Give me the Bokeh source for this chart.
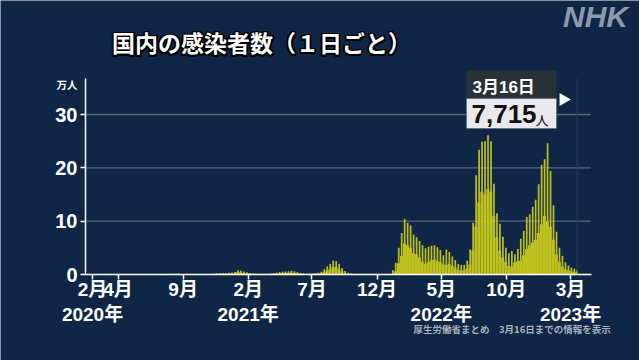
import numpy as np
import pandas as pd
from bokeh.plotting import figure
from bokeh.models import Range1d, FixedTicker, Label, BoxAnnotation, ColumnDataSource
from bokeh.embed import file_html
from bokeh.resources import INLINE

# ---------------- data (万人, weekly high day / weekly low day) ----------------
first_week = "2020-01-13"   # Monday of first week
last_week = "2023-03-13"    # Monday of last week
last_day = "2023-03-16"     # last reported day
base_date = "2020-02-01"
axis_start_day = -16.5      # 2020-01-16 (first case)
axis_end_day = 1173.3       # mid April 2023
y_top = 36.75

tick_dates = ["2020-02-01", "2020-04-01", "2020-09-01", "2021-02-01", "2021-07-01",
              "2021-12-01", "2022-05-01", "2022-10-01", "2023-03-01"]
tick_labels = ["2月\n2020年", "4月", "9月", "2月\n2021年", "7月",
               "12月", "5月\n2022年", "10月", "3月\n2023年"]
y_ticks = [0, 10, 20, 30]

high_2020 = [0.000, 0.001, 0.001,
             0.001, 0.002, 0.002, 0.003,
             0.005, 0.006, 0.005, 0.02, 0.04,
             0.07, 0.06, 0.045, 0.03,
             0.015, 0.01, 0.005, 0.005,
             0.005, 0.005, 0.006, 0.01, 0.02,
             0.04, 0.06, 0.10, 0.13,
             0.16, 0.13, 0.12, 0.09, 0.065,
             0.06, 0.06, 0.06, 0.06,
             0.065, 0.07, 0.07, 0.08,
             0.12, 0.17, 0.25, 0.25, 0.26,
             0.30, 0.31, 0.38, 0.45]
low_2020 = [0.000, 0.000, 0.000,
            0.000, 0.001, 0.001, 0.001,
            0.002, 0.003, 0.002, 0.004, 0.01,
            0.03, 0.03, 0.02, 0.01,
            0.005, 0.003, 0.002, 0.002,
            0.003, 0.003, 0.003, 0.004, 0.008,
            0.015, 0.03, 0.045, 0.06,
            0.09, 0.07, 0.06, 0.05, 0.035,
            0.03, 0.03, 0.025, 0.03,
            0.03, 0.03, 0.03, 0.035,
            0.05, 0.08, 0.10, 0.12, 0.12,
            0.15, 0.15, 0.19, 0.20]

high_2021 = [0.79, 0.70, 0.57, 0.40,
             0.26, 0.17, 0.14, 0.12,
             0.12, 0.13, 0.15, 0.20, 0.26,
             0.35, 0.45, 0.55, 0.56,
             0.62, 0.70, 0.60, 0.45, 0.30,
             0.22, 0.18, 0.18, 0.20,
             0.25, 0.33, 0.52, 1.00,
             1.5, 2.0, 2.6, 2.5, 2.0,
             1.2, 0.65, 0.35, 0.20,
             0.10, 0.06, 0.04, 0.03,
             0.025, 0.02, 0.02, 0.015, 0.015,
             0.02, 0.02, 0.03, 0.06]
low_2021 = [0.45, 0.40, 0.30, 0.20,
            0.13, 0.10, 0.07, 0.06,
            0.06, 0.07, 0.08, 0.10, 0.13,
            0.17, 0.22, 0.25, 0.30,
            0.30, 0.35, 0.30, 0.20, 0.15,
            0.10, 0.09, 0.09, 0.10,
            0.12, 0.16, 0.20, 0.45,
            0.7, 1.0, 1.4, 1.4, 1.0,
            0.6, 0.30, 0.15, 0.10,
            0.05, 0.03, 0.02, 0.015,
            0.01, 0.01, 0.008, 0.007, 0.008,
            0.008, 0.01, 0.015, 0.02]

high_2022 = [0.85, 2.2, 5.0, 7.8, 10.4,
             9.7, 9.2, 7.5, 7.0,
             6.3, 5.5, 4.9, 5.2,
             5.4, 5.5, 5.1, 4.6,
             3.6, 4.7, 4.2, 3.4, 2.7,
             2.0, 1.8, 1.8, 2.6,
             4.7, 9.7, 18.6, 23.4,
             24.9, 25.0, 26.1, 25.0, 17.0,
             11.5, 9.5, 7.1, 5.0,
             4.0, 4.4, 3.8, 4.8, 6.7,
             8.2, 10.8, 11.3, 12.7,
             14.0, 16.9, 20.6, 21.6]
low_2022 = [0.07, 0.6, 2.1, 3.5, 5.8,
            5.5, 5.0, 4.0, 3.8,
            3.2, 2.4, 2.0, 2.3,
            2.7, 2.8, 2.5, 2.3,
            1.9, 1.8, 2.0, 1.6, 1.3,
            0.9, 0.8, 0.8, 1.1,
            1.9, 4.5, 9.0, 13.5,
            15.5, 15.0, 16.0, 15.5, 11.0,
            7.0, 4.5, 3.2, 2.4,
            1.6, 1.5, 2.2, 2.5, 2.6,
            3.6, 4.8, 5.5, 6.0,
            6.5, 7.8, 9.4, 11.0]

high_2023 = [24.6, 19.4, 13.0, 8.0, 5.0,
             3.5, 2.3, 1.7, 1.3,
             1.1, 0.9]
low_2023 = [10.0, 9.0, 6.5, 3.8, 2.4,
            1.5, 1.0, 0.75, 0.6,
            0.5, 0.45]

latest_date_label = "3月16日"
latest_value_label = "7,715"

# ---------------- derived ----------------
weekly_high = high_2020 + high_2021 + high_2022 + high_2023
weekly_low = low_2020 + low_2021 + low_2022 + low_2023
weeks = pd.date_range(first_week, last_week, freq="7D")
assert len(weeks) == len(weekly_high) == len(weekly_low)
base = pd.Timestamp(base_date)
start = np.asarray((weeks - base).days, dtype=float)
end_day = float((pd.Timestamp(last_day) - base).days + 1)
tick_days = [int((pd.Timestamp(d) - base).days) for d in tick_dates]

src = ColumnDataSource(dict(
    l_left=start, l_right=np.minimum(start + 7, end_day), low=weekly_low,
    h_left=start + 2, h_right=np.minimum(start + 6, end_day), high=weekly_high,
))

# ---------------- layout (canvas = whole page) ----------------
W, H = 639, 360
PLOT_L, PLOT_R, PLOT_B = 85, 591, 274
px_day = (PLOT_R - PLOT_L) / (axis_end_day - axis_start_day)
px_unit = 160 / 30.0
x_range = Range1d(axis_start_day - PLOT_L / px_day, axis_end_day + (W - PLOT_R) / px_day)
y_range = Range1d(-(H - PLOT_B) / px_unit, PLOT_B / px_unit)

BG = "#0f2646"
BAR = "#bfc21e"
FONT = "'Liberation Sans', 'Noto Sans CJK JP', sans-serif"
JP = "'Noto Sans CJK JP', sans-serif"

p = figure(width=W, height=H, output_backend="svg", toolbar_location=None, title=None,
           x_range=x_range, y_range=y_range, min_border=0,
           background_fill_color=BG, border_fill_color=BG, outline_line_color=None)
p.grid.visible = False

# gridlines (from the y ticks)
grid_y = [t for t in y_ticks if t > 0]
p.segment(x0=[axis_start_day] * len(grid_y), x1=[axis_end_day - 1.5] * len(grid_y),
          y0=grid_y, y1=grid_y, line_color="#5b6678", line_width=1.3)
# latest-day marker line
p.segment(x0=[end_day - 0.5], x1=[end_day - 0.5], y0=[0], y1=[y_top],
          line_color="#243d5e", line_width=1)

p.quad(left="l_left", right="l_right", bottom=0, top="low", source=src,
       fill_color=BAR, line_color=None)
p.quad(left="h_left", right="h_right", bottom=0, top="high", source=src,
       fill_color=BAR, line_color=None)

# axes
p.xaxis.fixed_location = 0
p.xaxis.bounds = (axis_start_day, axis_end_day)
p.yaxis.fixed_location = axis_start_day
p.yaxis.bounds = (0, y_top)
p.xaxis.ticker = FixedTicker(ticks=tick_days)
p.xaxis.major_label_overrides = dict(zip(tick_days, tick_labels))
p.yaxis.ticker = FixedTicker(ticks=y_ticks)
for ax in (p.xaxis, p.yaxis):
    ax.axis_line_color = "white"
    ax.axis_line_width = 1.5
    ax.major_tick_line_color = "white"
    ax.major_tick_line_width = 1.5
    ax.major_tick_out = 5
    ax.major_tick_in = 0
    ax.minor_tick_line_color = None
    ax.major_label_text_color = "white"
    ax.major_label_text_font = FONT
    ax.major_label_text_font_style = "bold"
p.yaxis.major_label_standoff = 3
p.xaxis.major_label_standoff = -1
p.xaxis.major_label_text_font_size = "19px"
p.xaxis.major_label_text_line_height = 1.2
p.yaxis.major_label_text_font_size = "20px"

def label(text, rx, ry, size, color="white", font=FONT, style="bold", align="left",
          baseline="middle"):
    p.add_layout(Label(x=rx, y=H - ry, x_units="screen", y_units="screen", text=text,
                       text_font=font, text_font_size=size, text_font_style=style,
                       text_color=color, text_align=align, text_baseline=baseline))

def box(l, r, t, b, **kw):
    p.add_layout(BoxAnnotation(left=l, right=r, top=H - t, bottom=H - b,
                               left_units="screen", right_units="screen",
                               top_units="screen", bottom_units="screen",
                               fill_alpha=1, **kw))

# title with black outline
title = "国内の感染者数（１日ごと）"
TX, TY = 261, 41.5
for dx in (-1.5, 0, 1.5):
    for dy in (-1.5, 0, 1.5):
        if dx or dy:
            label(title, TX + dx, TY + dy, "23px", color="black", font=JP, align="center")
label(title, TX, TY, "23px", font=JP, align="center")

# NHK logo
label("NHK", 595, 15.5, "30px", color="#8e99aa", style="bold italic", align="center")
# unit
label("万人", 66.5, 84, "10.5px", font=JP, align="center")
# source
label("厚生労働省まとめ　3月16日までの情報を表示", 413, 328, "9.5px", color="#a9b0bb", font=JP)

# annotation box
box(466, 556, 70, 98, fill_color="#283136", line_color=None)
box(466, 556, 98, 128, fill_color="#e7e9ec", line_color="#3a4048", line_width=1)
label(latest_date_label, 472, 86.5, "17px")
label(latest_value_label, 471, 113.5, "26px", color="#111111")
label("人", 535, 119, "13px", color="#111111", font=JP, style="normal")
p.scatter(x=[1107], y=[32.8], marker="triangle", size=13, angle=-np.pi / 2,
          fill_color="white", line_color=None)

html = file_html(p, INLINE)
html = html.replace("<body>", '<body style="background:#0f2646;">', 1)
open("out.html", "w").write(html)
